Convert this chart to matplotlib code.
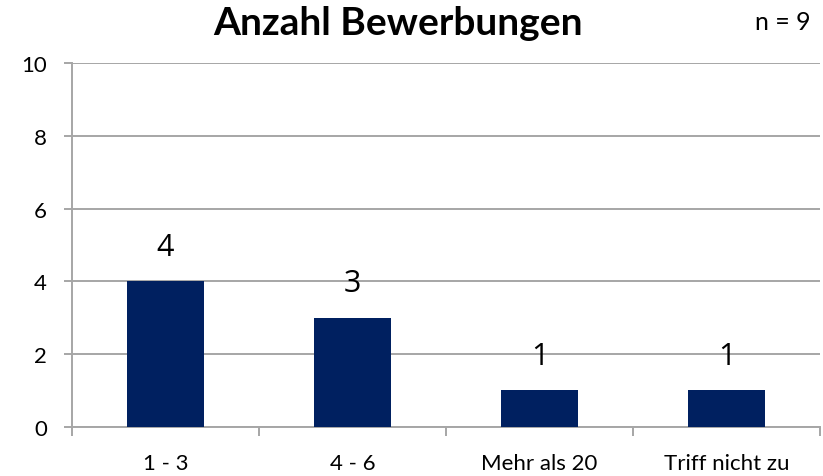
import matplotlib
matplotlib.use('Agg')
import matplotlib.pyplot as plt
import numpy as np

categories = ['1 - 3', '4 - 6', 'Mehr als 20', 'Triff nicht zu']
counts = [4, 3, 1, 1]
y_ticks = [0, 2, 4, 6, 8, 10]
title = 'Anzahl Bewerbungen'
n_text = 'n = 9'

BAR_COLOR = '#002060'
GRID_COLOR = '#a6a6a6'
FONT = ['Lato', 'DejaVu Sans']

plt.rcParams['font.family'] = FONT

fig = plt.figure(figsize=(8.23, 4.77), dpi=100)
ax = fig.add_axes([0.0875, 0.1034, 0.9089, 0.7614])

x = np.arange(len(categories))
bars = ax.bar(x, counts, width=0.41, color=BAR_COLOR, zorder=3)

# Werte über den Balken
for xi, v in zip(x, counts):
    ax.annotate(str(v), (xi, v), xytext=(0, 14), textcoords='offset points',
                ha='center', va='bottom', fontsize=22, family=['Open Sans', 'DejaVu Sans'])

ax.set_xlim(-0.5, len(categories) - 0.5)
ax.set_ylim(0, 10)
ax.set_yticks(y_ticks)
ax.yaxis.grid(True, color=GRID_COLOR, linewidth=1.4, zorder=0)
ax.set_axisbelow(True)

ax.set_xticks(x)
ax.set_xticklabels(categories, fontsize=16)
ax.set_xticks(np.arange(-0.5, len(categories)), minor=True)
ax.tick_params(axis='x', which='major', length=0, pad=19)
ax.tick_params(axis='x', which='minor', length=6.5, width=1.4, color=GRID_COLOR)
ax.tick_params(axis='y', length=6, width=1.4, color=GRID_COLOR, labelsize=16, pad=12)

for side in ['top', 'right']:
    ax.spines[side].set_visible(False)
for side in ['left', 'bottom']:
    ax.spines[side].set_color(GRID_COLOR)
    ax.spines[side].set_linewidth(1.4)

fig.text(0.484, 0.950, title, ha='center', va='center', fontsize=28, fontweight='bold')
fig.text(0.951, 0.952, n_text, ha='center', va='center', fontsize=18)

fig.savefig('out.png', dpi=100)
